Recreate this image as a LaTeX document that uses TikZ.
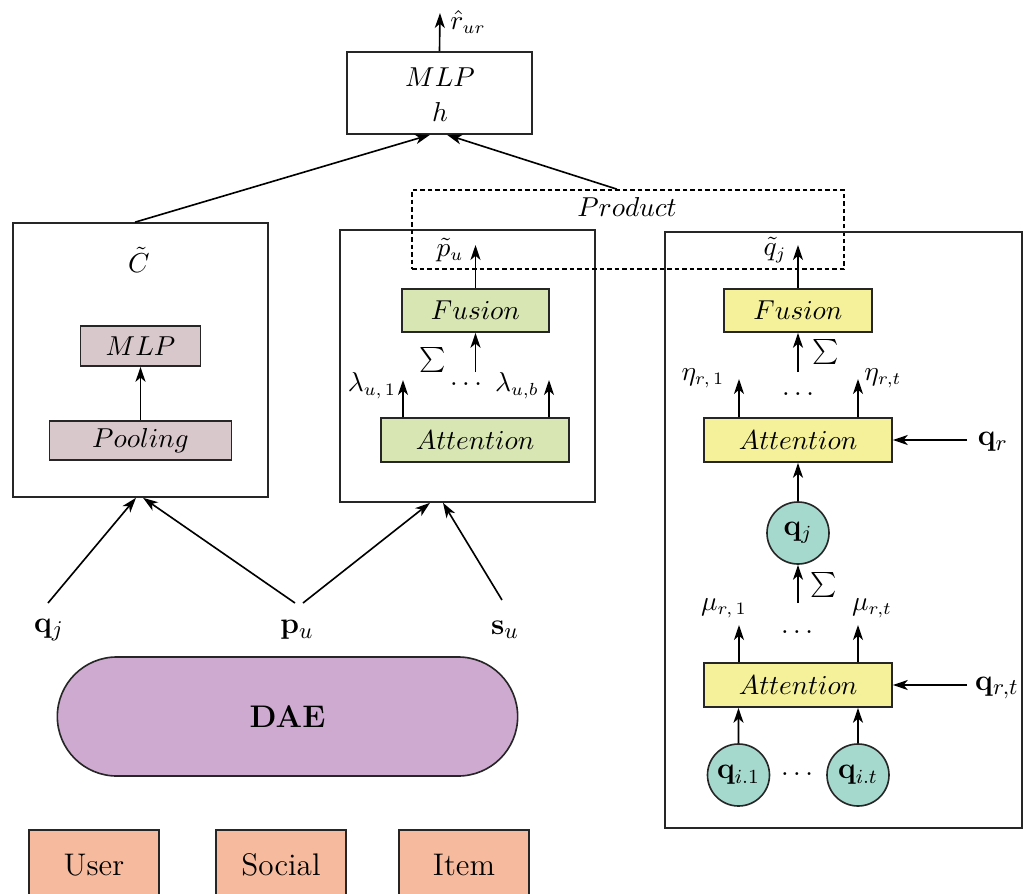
\documentclass[tikz,border=0pt]{standalone}
\usetikzlibrary{arrows.meta,shapes.misc}
\definecolor{pinkg}{RGB}{216,199,203}
\definecolor{lgreen}{RGB}{215,230,178}
\definecolor{lyellow}{RGB}{244,241,154}
\definecolor{teal1}{RGB}{166,217,205}
\definecolor{purp}{RGB}{206,170,209}
\definecolor{peach}{RGB}{246,187,158}
\def\px{0.4pt}
\tikzset{
  blk/.style={draw=black!85, line width=0.65pt, inner sep=0pt},
  arr/.style={-{Stealth[length=6pt,width=4pt,inset=1.7pt]}, line width=0.65pt},
  circ/.style={circle, draw=black!85, fill=teal1, line width=0.65pt, inner sep=0pt, minimum size=62*\px, font=\fontsize{11.5}{13}\selectfont},
  prodbox/.style={draw, line width=0.65pt, dash pattern=on 1.8pt off 1.2pt},
  lab/.style={inner sep=1pt},
  inp/.style={inner sep=1pt, font=\fontsize{12.5}{14}\selectfont},
  src/.style={blk, fill=peach, minimum width=130*\px, minimum height=70*\px, font=\fontsize{12.5}{14}\selectfont}
}
\begin{document}
\begin{tikzpicture}[x=0.4pt,y=-0.4pt, font=\fontsize{10.6}{12.5}\selectfont]
\useasboundingbox (0,0) rectangle (1029,894);

% ---- top MLP
\node[blk, minimum width=185*\px, minimum height=82*\px] (topmlp) at (439.5,93) {};
\node[lab] (mlptxt) at (440,77) {$MLP$};
\node[lab] (htxt) at (440,112) {$h$};
\coordinate (rout) at (440,13);
\node[lab] (rhat) at (468,22) {$\hat{r}_{ur}$};
\draw[arr] (topmlp.north) -- (rout);

% ---- left box
\node[blk, minimum width=255*\px, minimum height=274*\px] (leftbox) at (140.5,360) {};
\node[lab] (ctil) at (139,260) {$\tilde{C}$};
\node[blk, fill=pinkg, minimum width=120*\px, minimum height=40*\px] (mlpC) at (140.5,346) {$MLP$};
\node[blk, fill=pinkg, minimum width=182*\px, minimum height=39*\px] (pool) at (140.5,440.5) {$Pooling$};
\draw[arr] (pool.north) -- (mlpC.south);

% ---- middle box
\node[blk, minimum width=255*\px, minimum height=272*\px] (midbox) at (467.5,366) {};
\node[blk, fill=lgreen, minimum width=147*\px, minimum height=43*\px] (fusU) at (475.5,310.5) {$Fusion$};
\node[blk, fill=lgreen, minimum width=188*\px, minimum height=44*\px] (attU) at (475,440) {$Attention$};
\coordinate (pout) at (475.5,245);
\node[lab] (ptil) at (450,250) {$\tilde{p}_u$};
\draw[arr] (fusU.north) -- (pout);
\coordinate (sumUin) at (475.5,372);
\draw[arr] (sumUin) -- (fusU.south);
\node[lab, font=\fontsize{12}{14}\selectfont] (sumU) at (433,360) {$\sum$};
\node[lab] (dotsU) at (466,384) {$\dots$};
\coordinate (lam1) at (403,380);
\coordinate (lamb) at (549,380);
\draw[arr] ([xshift=-28.8pt]attU.north) -- (lam1);
\draw[arr] ([xshift=29.6pt]attU.north) -- (lamb);
\node[lab] (lam1t) at (372,386) {$\lambda_{u,\,1}$};
\node[lab] (lambt) at (517,386) {$\lambda_{u,b}$};

% ---- product dashed box
\node[prodbox, minimum width=432*\px, minimum height=79*\px, inner sep=0pt] (prod) at (628,229.5) {};
\node[lab] (prodt) at (627,207) {$Product$};

% ---- right box
\node[blk, minimum width=357*\px, minimum height=596*\px] (rightbox) at (843.5,530) {};
\node[blk, fill=lyellow, minimum width=148*\px, minimum height=43*\px] (fusI) at (798,310.5) {$Fusion$};
\node[blk, fill=lyellow, minimum width=188*\px, minimum height=44*\px] (attI1) at (798,440) {$Attention$};
\node[blk, fill=lyellow, minimum width=188*\px, minimum height=44*\px] (attI2) at (798,685) {$Attention$};
\node[circ] (qj) at (798,533) {$\mathbf{q}_j$};
\node[circ] (qi1) at (738.5,775) {$\mathbf{q}_{i.1}$};
\node[circ] (qit) at (858,775) {$\mathbf{q}_{i.t}$};
\node[lab] (dotsq) at (797,774) {$\dots$};

\coordinate (qout) at (798,245);
\node[lab] (qtil) at (775,250) {$\tilde{q}_j$};
\draw[arr] (fusI.north) -- (qout);
\coordinate (sumIin) at (798,372);
\draw[arr] (sumIin) -- (fusI.south);
\node[lab, font=\fontsize{12}{14}\selectfont] (sumI) at (826,352) {$\sum$};
\coordinate (eta1) at (739,379);
\coordinate (etat) at (858,379);
\draw[arr] ([xshift=-23.6pt]attI1.north) -- (eta1);
\draw[arr] ([xshift=24pt]attI1.north) -- (etat);
\node[lab] (eta1t) at (703,378) {$\eta_{r,\,1}$};
\node[lab] (etatt) at (883,378) {$\eta_{r,t}$};
\node[lab] (dotsI1) at (798,394) {$\dots$};
\coordinate (qrs) at (967,440);
\node[inp] (qr) at (993,442) {$\mathbf{q}_r$};
\draw[arr] (qrs) -- (attI1.east);
\draw[arr] (qj.north) -- (attI1.south);
\coordinate (sumQin) at (798,603);
\draw[arr] (sumQin) -- (qj.south);
\node[lab, font=\fontsize{12}{14}\selectfont] (sumQ) at (824,585) {$\sum$};
\coordinate (mu1) at (739,625);
\coordinate (mut) at (858,625);
\draw[arr] ([xshift=-23.6pt]attI2.north) -- (mu1);
\draw[arr] ([xshift=24pt]attI2.north) -- (mut);
\node[lab] (mu1t) at (724,608) {$\mu_{r,\,1}$};
\node[lab] (mutt) at (872,608) {$\mu_{r,t}$};
\node[lab] (dotsI2) at (797,632) {$\dots$};
\coordinate (qrts) at (967,685);
\node[inp] (qrt) at (997,688) {$\mathbf{q}_{r,t}$};
\draw[arr] (qrts) -- (attI2.east);
\draw[arr] (qi1.north) -- ([xshift=-23.8pt]attI2.south);
\draw[arr] (qit.north) -- ([xshift=24pt]attI2.south);

% ---- inputs
\node[inp] (qjl) at (49,630) {$\mathbf{q}_j$};
\node[inp] (pul) at (297,630) {$\mathbf{p}_u$};
\node[inp] (sul) at (505,630) {$\mathbf{s}_u$};
\coordinate (qjtop) at (48,603);
\coordinate (putopL) at (295,603);
\coordinate (putopR) at (303,603);
\coordinate (sutop) at (502,600);
\draw[arr] (qjtop) -- ([xshift=-1.8pt]leftbox.south);
\draw[arr] (putopL) -- ([xshift=1pt]leftbox.south);
\draw[arr] (putopR) -- ([xshift=-15pt]midbox.south);
\draw[arr] (sutop) -- ([xshift=-9.8pt]midbox.south);

% ---- top connectors
\draw[arr] ([xshift=-2.2pt]leftbox.north) -- ([xshift=-3.8pt]topmlp.south);
\draw[arr] ([xshift=-4.4pt]prod.north) -- ([xshift=3pt]topmlp.south);

% ---- DAE and sources
\node[rounded rectangle, draw=black!85, fill=purp, line width=0.65pt, minimum width=477*\px, minimum height=119*\px, font=\fontsize{12.5}{14}\selectfont\bfseries] (dae) at (287.5,716.5) {DAE};
\node[src] (user) at (94,865) {User};
\node[src] (social) at (281,865) {Social};
\node[src] (item) at (464,865) {Item};
\end{tikzpicture}
\end{document}
